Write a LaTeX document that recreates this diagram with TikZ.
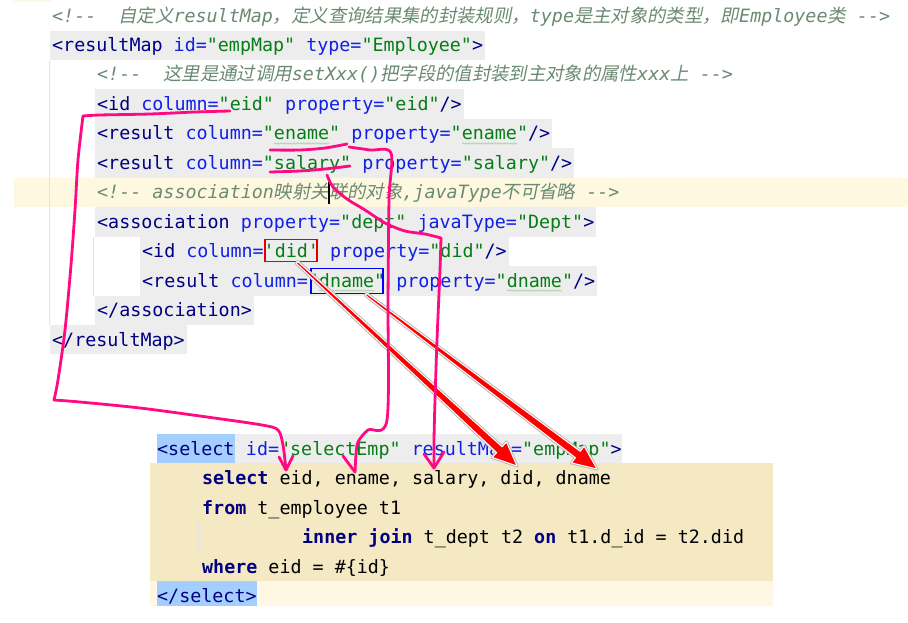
\documentclass[tikz,border=0pt]{standalone}
\usepackage{fontspec}
\setmonofont{DejaVu Sans Mono}
\newfontfamily\zhfont[FakeSlant=0.2]{Noto Sans CJK SC}
\usepackage{tikz}
\usetikzlibrary{calc}
\usetikzlibrary{decorations.pathmorphing}
\definecolor{tagc}{HTML}{000080}
\definecolor{attrc}{HTML}{1020E8}
\definecolor{valc}{HTML}{067D17}
\definecolor{cmtc}{HTML}{6A8A72}
\definecolor{linegray}{HTML}{EDEDED}
\definecolor{curline}{HTML}{FEF8E1}
\definecolor{selyel}{HTML}{F4E9C3}
\definecolor{sellight}{HTML}{FDF7E3}
\definecolor{selblue}{HTML}{A4CEFF}
\definecolor{guide}{HTML}{E2E2E2}
\definecolor{penpink}{HTML}{FF0A82}
\definecolor{squigc}{HTML}{A3CCA3}
\newcommand\xtag[1]{\textcolor{tagc}{#1}}
\newcommand\xatt[1]{\textcolor{attrc}{#1}}
\newcommand\xval[1]{\textcolor{valc}{#1}}
\newcommand\xkw[1]{\textcolor{tagc}{\bfseries #1}}
\newcommand\xcmt[1]{\textcolor{cmtc}{\itshape #1}}
\newcommand\xzh[1]{{\zhfont\upshape #1}}
\tikzset{
  code/.style={anchor=base west, inner xsep=2pt, inner ysep=0pt, text height=21pt, text depth=8.45pt,
    font=\fontsize{18.35}{22}\selectfont\ttfamily},
  codebg/.style={code, fill=linegray},
  sql/.style={code, inner xsep=0pt},
  pen/.style={draw=penpink, line width=2.8pt, line cap=round, line join=round},
  squiggle/.style={draw=squigc, line width=0.6pt, decorate, decoration={snake, amplitude=0.7pt, segment length=3.2pt}},
  markbox/.style={line width=1.8pt, inner sep=0pt},
  arrowshadow/.style={draw=gray!55, line width=3pt, line join=round, fill=gray!55},
  arrowbody/.style={fill=red, draw=white, line width=1pt, line join=round}
}
\newcommand\drawredarrow[2]{%
  \coordinate (hb) at ($(#2)!24pt!(#1)$);
  \foreach \sty in {arrowshadow,arrowbody}
    \filldraw[\sty] ($(#1)!1.2pt!90:(#2)$) -- ($(hb)!4pt!90:(#2)$) -- ($(hb)!10.5pt!90:(#2)$) -- (#2)
      -- ($(hb)!10.5pt!-90:(#2)$) -- ($(hb)!4pt!-90:(#2)$) -- ($(#1)!1.2pt!-90:(#2)$) -- cycle;
}

\begin{document}
\begin{tikzpicture}[x=1pt, y=-1pt]
\useasboundingbox (0,0) rectangle (908,622);
\fill[white] (0,0) rectangle (908,622);
\fill[curline] (14,0) rectangle (52,2);
\fill[curline] (14,177.7) rectangle (908,207.15);
\draw[color=guide, line width=1pt] (49,61) -- (49,325);
\draw[color=guide, line width=1pt] (93,237) -- (93,296);
\fill[selyel] (150,463.45) rectangle (773,581.25);
\fill[sellight] (150,581.25) rectangle (773,606);
\draw[color=guide, line width=1pt] (198,522) -- (198,551);

% resultMap
\node[code] (l1) at (50,22) {\xcmt{<!--\ \ \xzh{自定义}resultMap\xzh{，定义查询结果集的封装规则，}type\xzh{是主对象的类型，即}Employee\xzh{类} -->}};
\node[codebg] (l2) at (50,51.5) {\xtag{<resultMap} \xatt{id=}\xval{"empMap"} \xatt{type=}\xval{"Employee"}\xtag{>}};
\node[code] (l3) at (95,80.9) {\xcmt{<!--\ \ \xzh{这里是通过调用}setXxx()\xzh{把字段的值封装到主对象的属性}xxx\xzh{上} -->}};
\node[codebg] (l4) at (95,110.4) {\xtag{<id} \xatt{column=}\xval{"eid"} \xatt{property=}\xval{"eid"}\xtag{/>}};
\node[codebg] (l5) at (95,139.8) {\xtag{<result} \xatt{column=}\xval{"ename"} \xatt{property=}\xval{"ename"}\xtag{/>}};
\node[codebg] (l6) at (95,169.3) {\xtag{<result} \xatt{column=}\xval{"salary"} \xatt{property=}\xval{"salary"}\xtag{/>}};
\node[code] (l7) at (95,198.7) {\xcmt{<!-- association\xzh{映射关联的对象},javaType\xzh{不可省略} -->}};
\node[codebg] (l8) at (95,228.2) {\xtag{<association} \xatt{property=}\xval{"dept"} \xatt{javaType=}\xval{"Dept"}\xtag{>}};
\node[codebg] (l9) at (140,257.6) {\xtag{<id} \xatt{column=}\xval{'did'} \xatt{property=}\xval{"did"}\xtag{/>}};
\node[codebg] (l10) at (140,287.1) {\xtag{<result} \xatt{column=}\xval{"dname"} \xatt{property=}\xval{"dname"}\xtag{/>}};
\node[codebg] (l11) at (95,316.5) {\xtag{</association>}};
\node[codebg] (l12) at (50,346) {\xtag{</resultMap>}};

% select
\node[sql, fill=selblue] (s1) at (157,455) {\xtag{<select}};
\node[sql, fill=linegray] (s1r) at (s1.base east) {\ \xatt{id=}\xval{"selectEmp"} \xatt{resultMap=}\xval{"empMap"}\xtag{>}};
\node[sql] (s2) at (202,484.5) {\xkw{select} eid, ename, salary, did, dname};
\node[sql] (s3) at (202,514) {\xkw{from} t\_employee t1};
\node[sql] (s4) at (302,543.5) {\xkw{inner join} t\_dept t2 \xkw{on} t1.d\_id = t2.did};
\node[sql] (s5) at (202,573) {\xkw{where} eid = \#\{id\}};
\node[sql, fill=selblue, text depth=4pt] (s6) at (157,602) {\xtag{</select>}};

\draw[line width=1.3pt] (329,182) -- (329,204);
\draw[squiggle] (274,143.5) -- (329,143.5);
\draw[squiggle] (462,143.5) -- (517,143.5);
\draw[squiggle] (319,290.6) -- (374,290.6);
\draw[squiggle] (507,290.6) -- (562,290.6);

\node[markbox, draw=red!90!black, minimum width=52pt, minimum height=22pt] (didbox) at (291,250.5) {};
\node[markbox, draw=blue, minimum width=72pt, minimum height=25pt] (dnamebox) at (347,281) {};

\coordinate (didFoot) at ([xshift=6pt]didbox.south);
\coordinate (dnameFoot) at ([xshift=19pt]dnamebox.south);
\coordinate (tDid) at (517,466);
\coordinate (tDname) at (597,469);
\drawredarrow{didFoot}{tDid}
\drawredarrow{dnameFoot}{tDname}

% pen marks
\coordinate (eidMark) at (230,111);
\coordinate (enameMark) at (270,150);
\coordinate (salaryMark) at (270,172);
\coordinate (tEid) at (286,470);
\coordinate (tEname) at (355,472);
\coordinate (tSalary) at (434,468);

\draw[pen] plot[smooth, tension=0.5] coordinates {(eidMark) (195,112) (150,114) (100,115) (83,116)};
\draw[pen] plot[smooth, tension=0.5] coordinates {(83,116) (78,160) (75,210) (71,265) (65,330) (58,380) (54,400)};
\draw[pen] plot[smooth, tension=0.5] coordinates {(54,400) (80,402) (140,408) (207,417) (262,425) (278,430) (283,445) (tEid)};
\draw[pen] (279,457) -- (tEid) -- (293,456);

\draw[pen] plot[smooth, tension=0.5] coordinates {(enameMark) (300,150) (325,148) (347,144)};
\draw[pen] plot[smooth, tension=0.5] coordinates {(349,147) (370,150) (391,153) (389,200) (388,300) (387,420) (368,430) (358,442) (356,455) (tEname)};
\draw[pen] (343,456) -- (tEname);

\draw[pen] plot[smooth, tension=0.5] coordinates {(salaryMark) (300,171) (325,169) (350,166)};
\draw[pen] plot[smooth, tension=0.5] coordinates {(327,175) (333,187) (347,199) (365,210) (385,223) (405,231) (425,234) (441,238)};
\draw[pen] plot[smooth, tension=0.5] coordinates {(441,238) (440,270) (437,340) (435,400) (434,440) (tSalary)};
\draw[pen] (424,454) -- (tSalary) -- (444,452);
\end{tikzpicture}
\end{document}
